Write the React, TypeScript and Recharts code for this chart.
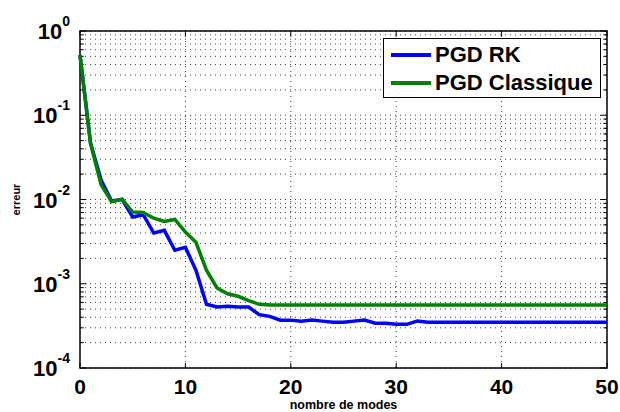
import React from 'react';
import {
  LineChart,
  Line,
  XAxis,
  YAxis,
  CartesianGrid,
  ReferenceArea,
  ReferenceLine,
} from 'recharts';

const modes = [
  0, 1, 2, 3, 4, 5, 6, 7, 8, 9, 10, 11, 12, 13, 14, 15, 16, 17, 18, 19, 20, 21, 22, 23, 24, 25,
  26, 27, 28, 29, 30, 31, 32, 33, 34, 35, 36, 37, 38, 39, 40, 41, 42, 43, 44, 45, 46, 47, 48, 49, 50,
];

const pgdRK = [
  0.52, 0.047, 0.017, 0.0096, 0.01, 0.0062, 0.0066, 0.004, 0.0043, 0.0025, 0.0027, 0.00145,
  0.00057, 0.00053, 0.00054, 0.00053, 0.00053, 0.00043, 0.00041, 0.00037, 0.00037, 0.00036,
  0.00037, 0.00036, 0.00035, 0.00035, 0.00036, 0.00037, 0.00034, 0.00034, 0.00033, 0.00033,
  0.00036, 0.00035, 0.00035, 0.00035, 0.00035, 0.00035, 0.00035, 0.00035, 0.00035, 0.00035,
  0.00035, 0.00035, 0.00035, 0.00035, 0.00035, 0.00035, 0.00035, 0.00035, 0.00035,
];

const pgdClassique = [
  0.52, 0.046, 0.015, 0.0094, 0.0101, 0.0071, 0.007, 0.006, 0.0055, 0.0058, 0.0041, 0.0031,
  0.00145, 0.00089, 0.00076, 0.00071, 0.00063, 0.00057, 0.00056, 0.00056, 0.00056, 0.00056,
  0.00056, 0.00056, 0.00056, 0.00056, 0.00056, 0.00056, 0.00056, 0.00056, 0.00056, 0.00056,
  0.00056, 0.00056, 0.00056, 0.00056, 0.00056, 0.00056, 0.00056, 0.00056, 0.00056, 0.00056,
  0.00056, 0.00056, 0.00056, 0.00056, 0.00056, 0.00056, 0.00056, 0.00056, 0.00056,
];

const xTicks = [0, 10, 20, 30, 40, 50];
const yTicks = [1e-4, 1e-3, 1e-2, 1e-1, 1];
const yTickExps = ['-4', '-3', '-2', '-1', '0'];
const minorFactors = [2, 3, 4, 5, 6, 7, 8, 9];
const seriesNames = ['PGD RK', 'PGD Classique'];
const seriesColors = ['#0000ff', '#008000'];

const yMinor = yTicks.slice(0, -1).flatMap((d) => minorFactors.map((f) => d * f));
const yGrid = [...yTicks, ...yMinor];

const data = modes.map((m, i) => ({ m, rk: pgdRK[i], cl: pgdClassique[i] }));

const FONT = '"Liberation Sans", Arial, Helvetica, sans-serif';

const YTick = (props: any) => {
  const { y, payload } = props;
  const idx = yTicks.indexOf(payload.value);
  return (
    <text x={70} y={y + 8} textAnchor="end" fontFamily={FONT} fontWeight="bold" fill="#000">
      <tspan fontSize={22}>10</tspan>
      <tspan fontSize={14} dy={-13}>{yTickExps[idx]}</tspan>
    </text>
  );
};

const XTick = (props: any) => {
  const { x, y, payload } = props;
  return (
    <text x={x} y={y + 18} textAnchor="middle" fontFamily={FONT} fontWeight="bold" fontSize={21} fill="#000">
      {payload.value}
    </text>
  );
};

const LegendBox = () => (
  <div
    style={{
      position: 'absolute',
      left: 383,
      top: 38,
      width: 218,
      height: 60,
      border: '1.5px solid #000',
      background: '#fff',
      fontFamily: FONT,
      fontWeight: 'bold',
      fontSize: 22,
      boxSizing: 'border-box',
    }}
  >
    {seriesNames.map((name, i) => (
      <div key={name} style={{ display: 'flex', alignItems: 'center', height: 27, marginTop: i === 0 ? 2 : 1 }}>
        <span
          style={{
            display: 'inline-block',
            width: 40,
            height: 4,
            background: seriesColors[i],
            marginLeft: 7,
            marginRight: 4,
          }}
        />
        <span style={{ lineHeight: '27px' }}>{name}</span>
      </div>
    ))}
  </div>
);

export default function App() {
  return (
    <div style={{ position: 'absolute', left: 0, top: 0, width: 620, height: 412, background: '#fff' }}>
      <LineChart width={620} height={412} data={data} margin={{ top: 31, right: 13, bottom: 0, left: 0 }}>
        <CartesianGrid
          horizontalValues={yGrid}
          verticalValues={[10, 20, 30, 40]}
          stroke="#000"
          strokeOpacity={0.75}
          strokeDasharray="1 4"
        />
        <XAxis
          dataKey="m"
          type="number"
          domain={[0, 50]}
          ticks={xTicks}
          height={44}
          tick={<XTick />}
          tickLine={false}
          axisLine={false}
          interval={0}
          label={{
            value: 'nombre de modes',
            position: 'insideBottom',
            offset: 3,
            style: { fontFamily: FONT, fontWeight: 'bold', fontSize: 12.5, fill: '#000' },
          }}
        />
        <YAxis
          type="number"
          scale="log"
          domain={[1e-4, 1]}
          ticks={yTicks}
          width={80}
          allowDataOverflow
          tick={<YTick />}
          tickLine={false}
          axisLine={false}
          interval={0}
          label={{
            value: 'erreur',
            angle: -90,
            position: 'insideLeft',
            offset: 16,
            style: { fontFamily: FONT, fontWeight: 'bold', fontSize: 11, fill: '#000', textAnchor: 'middle' },
          }}
        />
        {yMinor.map((v) => (
          <ReferenceLine key={'l' + v} segment={[{ x: 0, y: v }, { x: 0.35, y: v }]} stroke="#000" strokeWidth={1} />
        ))}
        {yMinor.map((v) => (
          <ReferenceLine key={'r' + v} segment={[{ x: 49.65, y: v }, { x: 50, y: v }]} stroke="#000" strokeWidth={1} />
        ))}
        {yTicks.map((v) => (
          <ReferenceLine key={'L' + v} segment={[{ x: 0, y: v }, { x: 0.6, y: v }]} stroke="#000" strokeWidth={1} />
        ))}
        {yTicks.map((v) => (
          <ReferenceLine key={'R' + v} segment={[{ x: 49.4, y: v }, { x: 50, y: v }]} stroke="#000" strokeWidth={1} />
        ))}
        {xTicks.map((v) => (
          <ReferenceLine key={'B' + v} segment={[{ x: v, y: 1e-4 }, { x: v, y: 1.15e-4 }]} stroke="#000" strokeWidth={1} />
        ))}
        {xTicks.map((v) => (
          <ReferenceLine key={'T' + v} segment={[{ x: v, y: 0.87 }, { x: v, y: 1 }]} stroke="#000" strokeWidth={1} />
        ))}
        <ReferenceArea x1={0} x2={50} y1={1e-4} y2={1} fill="none" stroke="#000" strokeWidth={1.5} />
        <Line
          type="linear"
          dataKey="rk"
          name={seriesNames[0]}
          stroke={seriesColors[0]}
          strokeWidth={3.5}
          dot={false}
          isAnimationActive={false}
        />
        <Line
          type="linear"
          dataKey="cl"
          name={seriesNames[1]}
          stroke={seriesColors[1]}
          strokeWidth={3.5}
          dot={false}
          isAnimationActive={false}
        />
      </LineChart>
      <LegendBox />
    </div>
  );
}
